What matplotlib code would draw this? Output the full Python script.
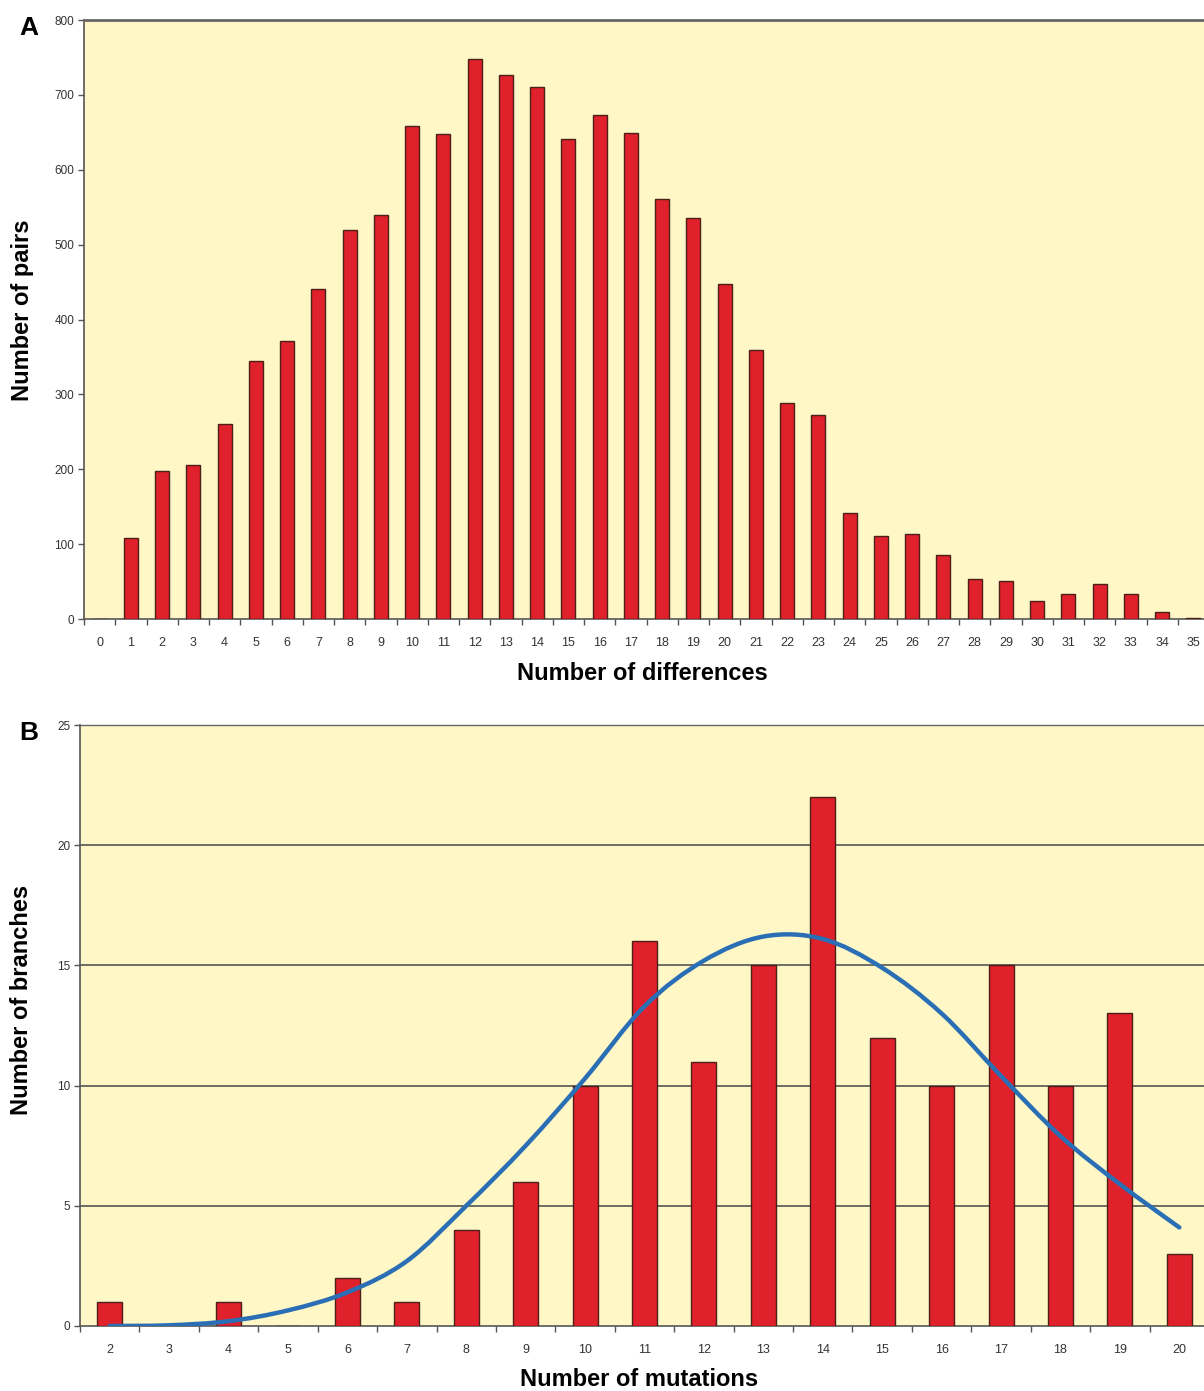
import matplotlib.pyplot as plt
from matplotlib.path import Path
from matplotlib.patches import PathPatch
import numpy as np

# Panel A: pairwise differences
diffs = list(range(0, 36))
pairs = [0, 108, 197, 206, 261, 345, 371, 441, 520, 539, 659, 648, 748, 727, 710,
         641, 673, 649, 561, 535, 448, 359, 288, 273, 141, 111, 113, 85, 54, 51,
         24, 34, 47, 34, 9, 1]

# Panel B: mutations per branch, with fitted curve
mutations = list(range(2, 21))
branches = [1, 0, 1, 0, 2, 1, 4, 6, 10, 16, 11, 15, 22, 12, 10, 15, 10, 13, 3]
fit = [0.0, 0.03, 0.2, 0.65, 1.4, 2.7, 5.0, 7.5, 10.3, 13.3, 15.2, 16.2, 16.1,
       14.9, 13.0, 10.4, 7.9, 5.9, 4.1]

bg = '#fff7c6'
bar_color = '#e0202a'
edge = '#4a2018'
plt.rcParams['font.family'] = ['Liberation Sans', 'DejaVu Sans']

fig = plt.figure(figsize=(12.04, 13.91), dpi=100)
W, H = 1204, 1391


def px_axes(left, top, right, bottom):
    return fig.add_axes([left / W, 1 - bottom / H, (right - left) / W, (bottom - top) / H])


def px_text(x, y, s, **kw):
    fig.text(x / W, 1 - y / H, s, ha='center', va='center', fontweight='bold', **kw)


def style_x(ax, cats):
    ax.set_xticks(cats)
    ax.set_xticklabels([str(c) for c in cats])
    ax.set_xticks(np.arange(cats[0] - 0.5, cats[-1] + 0.6, 1), minor=True)
    ax.tick_params(axis='x', which='major', length=0, pad=13, labelsize=9, labelcolor='#333333')
    ax.tick_params(axis='x', which='minor', length=4, width=1, color='#555555', direction='out')
    ax.tick_params(axis='y', length=4, width=1, color='#555555', labelsize=8.5,
                   labelcolor='#333333', pad=3)
    for s in ['left', 'bottom']:
        ax.spines[s].set_color('#555555')
        ax.spines[s].set_linewidth(1.2)
    ax.spines['right'].set_visible(False)


# ---- A ----
axA = px_axes(84, 20, 1209, 619)
axA.set_facecolor(bg)
axA.bar(diffs, pairs, width=0.45, color=bar_color, edgecolor=edge, linewidth=1, zorder=3)
axA.set_xlim(-0.5, 35.5)
axA.set_ylim(0, 800)
axA.set_yticks(range(0, 801, 100))
style_x(axA, diffs)
axA.spines['top'].set_color('#666666')
axA.spines['top'].set_linewidth(2)
px_text(642, 673, 'Number of differences', fontsize=17)
px_text(22, 310, 'Number of pairs', fontsize=17, rotation=90)
px_text(29, 28, 'A', fontsize=19)

# ---- B ----
axB = px_axes(80, 725, 1209, 1326)
axB.set_facecolor(bg)
axB.set_xlim(1.5, 20.5)
axB.set_ylim(0, 25)
axB.set_yticks(range(0, 26, 5))
for v in range(5, 21, 5):
    axB.axhline(v, color='#555555', linewidth=1.2, zorder=1)
axB.bar(mutations, branches, width=0.42, color=bar_color, edgecolor=edge, linewidth=1, zorder=3)

# smoothed fitted line (Catmull-Rom style Bezier through the read points)
xs = np.array(mutations, dtype=float)
ys = np.array(fit)
verts = [(xs[0], ys[0])]
codes = [Path.MOVETO]
for i in range(len(xs) - 1):
    x0, y0 = xs[max(i - 1, 0)], ys[max(i - 1, 0)]
    x1, y1 = xs[i], ys[i]
    x2, y2 = xs[i + 1], ys[i + 1]
    x3, y3 = xs[min(i + 2, len(xs) - 1)], ys[min(i + 2, len(xs) - 1)]
    verts += [(x1 + (x2 - x0) / 6, y1 + (y2 - y0) / 6),
              (x2 - (x3 - x1) / 6, y2 - (y3 - y1) / 6),
              (x2, y2)]
    codes += [Path.CURVE4] * 3
axB.add_patch(PathPatch(Path(verts, codes), facecolor='none', edgecolor='#2a6fb5',
                        linewidth=3.2, capstyle='round', zorder=4))

style_x(axB, mutations)
axB.spines['top'].set_color('#666666')
axB.spines['top'].set_linewidth(1)
axB.spines['top'].set_linestyle((0, (2, 1)))
px_text(639, 1379, 'Number of mutations', fontsize=17)
px_text(22, 1000, 'Number of branches', fontsize=17, rotation=90)
px_text(29, 733, 'B', fontsize=19)

fig.savefig('out.png', dpi=100, facecolor='white')
